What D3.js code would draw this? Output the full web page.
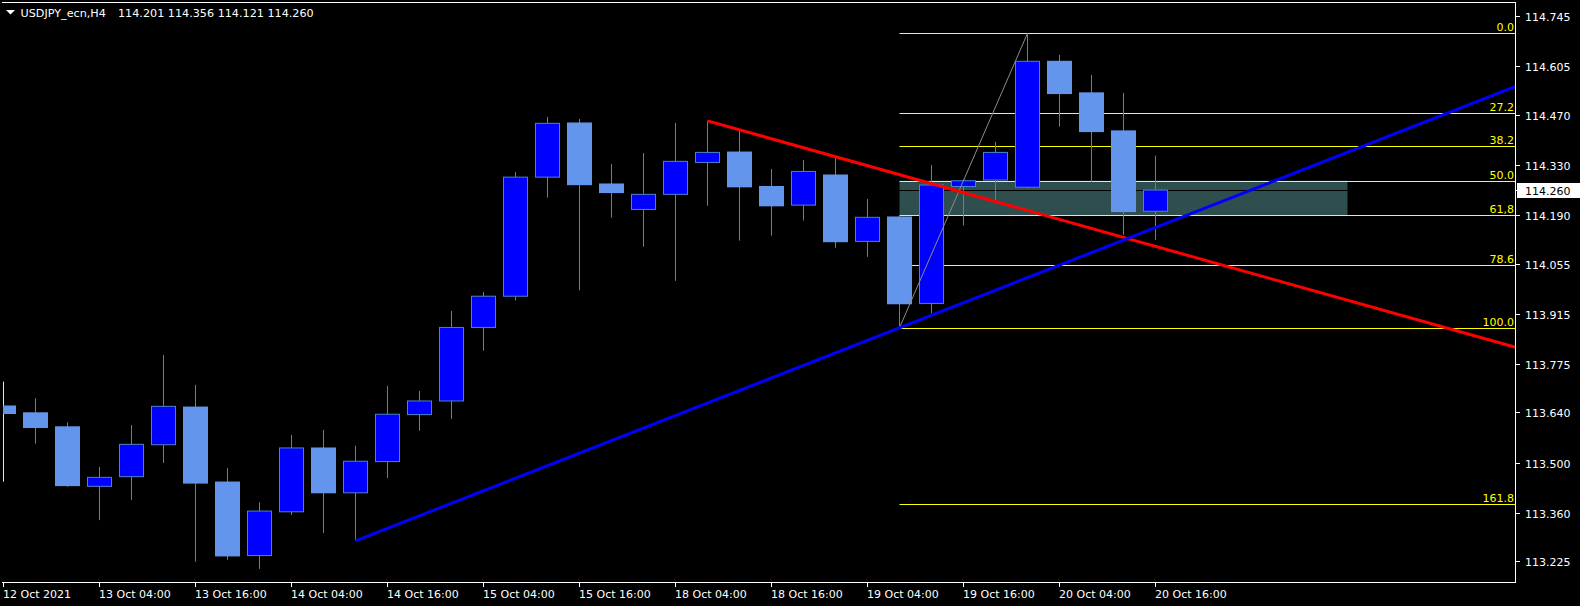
<!DOCTYPE html>
<html><head><meta charset="utf-8">
<script src="https://cdn.jsdelivr.net/npm/d3@7"></script>
<style>html,body{margin:0;padding:0;background:#000;overflow:hidden}</style>
</head><body><svg id="c" width="1580" height="606"></svg>
<script>
// ---- data ----
const times = ["12 Oct 16:00","12 Oct 20:00","13 Oct 00:00","13 Oct 04:00","13 Oct 08:00","13 Oct 12:00",
  "13 Oct 16:00","13 Oct 20:00","14 Oct 00:00","14 Oct 04:00","14 Oct 08:00","14 Oct 12:00",
  "14 Oct 16:00","14 Oct 20:00","15 Oct 00:00","15 Oct 04:00","15 Oct 08:00","15 Oct 12:00",
  "15 Oct 16:00","15 Oct 20:00","18 Oct 00:00","18 Oct 04:00","18 Oct 08:00","18 Oct 12:00",
  "18 Oct 16:00","18 Oct 20:00","19 Oct 00:00","19 Oct 04:00","19 Oct 08:00","19 Oct 12:00",
  "19 Oct 16:00","19 Oct 20:00","20 Oct 00:00","20 Oct 04:00","20 Oct 08:00","20 Oct 12:00","20 Oct 16:00"];
const open  = [113.658,113.639,113.600,113.434,113.461,113.550,113.655,113.446,113.241,113.363,113.541,113.416,
  113.503,113.634,113.672,113.877,113.964,114.296,114.447,114.277,114.206,114.248,114.337,114.366,
  114.270,114.218,114.302,114.117,114.185,113.944,114.270,114.288,114.268,114.619,114.531,114.425,114.201];
const high  = [113.726,113.680,113.613,113.488,113.605,113.800,113.717,113.485,113.390,113.577,113.591,113.547,
  113.714,113.700,113.923,113.976,114.310,114.464,114.458,114.333,114.363,114.447,114.453,114.430,
  114.319,114.344,114.353,114.235,114.190,114.330,114.290,114.394,114.697,114.637,114.581,114.531,114.356];
const low   = [113.447,113.553,113.433,113.340,113.396,113.499,113.224,113.229,113.204,113.354,113.304,113.282,
  113.457,113.589,113.622,113.812,113.952,114.239,113.981,114.183,114.102,114.007,114.216,114.119,
  114.133,114.175,114.099,114.074,113.876,113.916,114.161,114.230,114.265,114.437,114.283,114.135,114.121];
const close = [113.637,113.598,113.436,113.459,113.551,113.657,113.443,113.240,113.365,113.541,113.416,113.504,
  113.635,113.672,113.877,113.964,114.296,114.446,114.275,114.253,114.248,114.340,114.365,114.269,
  114.216,114.312,114.116,114.184,113.943,114.274,114.286,114.365,114.619,114.529,114.423,114.200,114.260];

const priceTicks = [114.745,114.605,114.470,114.330,114.190,114.055,113.915,113.775,113.640,113.500,113.360,113.225];
const timeTickIdx = [0,3,6,9,12,15,18,21,24,27,30,33,36];
const timeTickLabels = ["12 Oct 2021","13 Oct 04:00","13 Oct 16:00","14 Oct 04:00","14 Oct 16:00","15 Oct 04:00",
  "15 Oct 16:00","18 Oct 04:00","18 Oct 16:00","19 Oct 04:00","19 Oct 16:00","20 Oct 04:00","20 Oct 16:00"];

// fib level positions (as drawn, % of range from the high) and their captions
const fibLevels = [0, 27.2, 38.2, 50, 61.8, 78.6, 100, 160];
const fibLabels = ["0.0","27.2","38.2","50.0","61,8","78.6","100.0","161.8"];
const fibFrom = [28, 113.876];   // 100 %
const fibTo   = [32, 114.697];   // 0 %
const redLine  = [[22, 114.453], [26, 114.353]];
const blueLine = [[11, 113.282], [28, 113.876]];
const zoneIdx = [28, 42];
const zonePrice = [114.286, 114.189];
const symbol = "USDJPY_ecn,H4";
const bid = 114.260;

// ---- layout ----
const W = 1580, H = 606;
const plot = {l: 3, t: 3, r: 1515, b: 582};
const x = d3.scaleLinear().domain([0, 1]).range([3.5, 35.5]);
const y = d3.scaleLinear().domain([113.225, 114.745]).range([561.3, 16.1]);
const FONT = "DejaVu Sans";
const wickCol = "#4A84C6", bullFill = "#0000FF", bearFill = "#6495ED";

const svg = d3.select("#c");
svg.append("rect").attr("width", W).attr("height", H).attr("fill", "#000");
svg.append("clipPath").attr("id", "pc").append("rect")
  .attr("x", plot.l).attr("y", plot.t).attr("width", plot.r - plot.l).attr("height", plot.b - plot.t);
const g = svg.append("g").attr("clip-path", "url(#pc)");

const xr = plot.r;
// zone rectangle
g.append("rect")
  .attr("x", x(zoneIdx[0])).attr("width", x(zoneIdx[1]) - x(zoneIdx[0]))
  .attr("y", y(zonePrice[0])).attr("height", y(zonePrice[1]) - y(zonePrice[0]))
  .attr("fill", "#2F4F4F");
// bid line
g.append("line").attr("x1", plot.l).attr("x2", plot.r)
  .attr("y1", Math.round(y(bid)) + 0.5).attr("y2", Math.round(y(bid)) + 0.5)
  .attr("stroke", "#000").attr("stroke-width", 1);

// fib levels
const fibRange = fibTo[1] - fibFrom[1];
fibLevels.forEach((lv, k) => {
  const p = fibTo[1] - lv / 100 * fibRange;
  const yy = Math.round(y(p)) + 0.5;
  g.append("line").attr("x1", x(fibFrom[0])).attr("x2", xr).attr("y1", yy).attr("y2", yy)
    .attr("stroke", "#FFFF00").attr("stroke-width", 1);
  g.append("text").attr("x", xr - 1).attr("y", yy - 3).attr("text-anchor", "end")
    .attr("font-family", FONT).attr("font-size", 11).attr("fill", "#FFFF00").text(fibLabels[k]);
});

// candles
const idx = d3.range(times.length);
g.selectAll("line.wick").data(idx).join("line").attr("class", "wick")
  .attr("x1", i => x(i)).attr("x2", i => x(i))
  .attr("y1", i => y(high[i])).attr("y2", i => y(low[i]))
  .attr("stroke", (d, i) => i === 0 ? "#dfe8f5" : wickCol).attr("stroke-width", 1);
g.selectAll("rect.body").data(idx).join("rect").attr("class", "body")
  .each(function (i) {
    const bull = close[i] >= open[i];
    const top = y(Math.max(open[i], close[i])), bot = y(Math.min(open[i], close[i]));
    const s = d3.select(this);
    if (bull) {
      s.attr("x", x(i) - 12).attr("width", 24).attr("y", top).attr("height", Math.max(1, bot - top))
        .attr("fill", bullFill).attr("stroke", wickCol).attr("stroke-width", 1);
    } else {
      s.attr("x", x(i) - 12.5).attr("width", 25).attr("y", top - 0.5).attr("height", Math.max(1, bot - top + 1))
        .attr("fill", bearFill);
    }
  });

// fib diagonal
g.append("line").attr("x1", x(fibFrom[0])).attr("y1", y(fibFrom[1]))
  .attr("x2", x(fibTo[0])).attr("y2", y(fibTo[1]))
  .attr("stroke", "#8c8c8c").attr("stroke-width", 1);

// trend rays
function ray(pts, col) {
  const [[i0, p0], [i1, p1]] = pts;
  const slope = (p1 - p0) / (i1 - i0);
  const iEnd = 60;
  g.append("line").attr("x1", x(i0)).attr("y1", y(p0))
    .attr("x2", x(iEnd)).attr("y2", y(p0 + slope * (iEnd - i0)))
    .attr("stroke", col).attr("stroke-width", 3);
}
ray(redLine, "#FF0000");
ray(blueLine, "#0000FF");

// frame
svg.append("line").attr("x1", 2).attr("x2", plot.r + 1).attr("y1", 2.5).attr("y2", 2.5).attr("stroke", "#fff");
svg.append("line").attr("x1", plot.r + 0.5).attr("x2", plot.r + 0.5).attr("y1", 2).attr("y2", plot.b + 1).attr("stroke", "#fff");
svg.append("line").attr("x1", 2).attr("x2", plot.r + 1).attr("y1", plot.b + 0.5).attr("y2", plot.b + 0.5).attr("stroke", "#fff");

// price axis
priceTicks.forEach(p => {
  const yy = Math.round(y(p)) + 0.5;
  svg.append("line").attr("x1", plot.r + 1).attr("x2", plot.r + 5).attr("y1", yy).attr("y2", yy).attr("stroke", "#fff");
  svg.append("text").attr("x", 1525).attr("y", yy + 4).attr("font-family", FONT).attr("font-size", 11)
    .attr("fill", "#fff").text(p.toFixed(3));
});
// bid label
const by = Math.round(y(bid)) + 0.5;
svg.append("rect").attr("x", 1517).attr("y", by - 7.5).attr("width", 63).attr("height", 15).attr("fill", "#fff");
svg.append("line").attr("x1", plot.r + 1).attr("x2", plot.r + 5).attr("y1", by).attr("y2", by).attr("stroke", "#fff");
svg.append("text").attr("x", 1525).attr("y", by + 4).attr("font-family", FONT).attr("font-size", 11)
  .attr("fill", "#000").text(bid.toFixed(3));

// time axis
timeTickIdx.forEach((i, k) => {
  const xx = x(i);
  svg.append("line").attr("x1", xx).attr("x2", xx).attr("y1", plot.b + 1).attr("y2", plot.b + 5).attr("stroke", "#fff");
  svg.append("text").attr("x", xx - 0.5).attr("y", 598).attr("font-family", FONT).attr("font-size", 11)
    .attr("fill", "#fff").text(timeTickLabels[k]);
});

// header
svg.append("path").attr("d", "M6,10 L15,10 L10.5,14.5 Z").attr("fill", "#fff");
svg.append("text").attr("x", 20.5).attr("y", 16.5).attr("font-family", FONT).attr("font-size", 11.2)
  .attr("fill", "#fff").text(symbol);
svg.append("text").attr("x", 118).attr("y", 16.5).attr("font-family", FONT).attr("font-size", 11.2)
  .attr("fill", "#fff")
  .text([open[36], high[36], low[36], close[36]].map(v => v.toFixed(3)).join(" "));
</script>
</body></html>
